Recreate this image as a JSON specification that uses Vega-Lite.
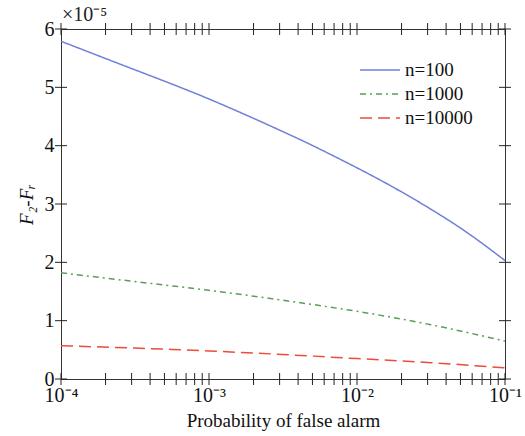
{
  "$schema": "https://vega.github.io/schema/vega-lite/v6.json",
  "width": 444,
  "height": 350,
  "autosize": {"type": "none"},
  "padding": {"left": 61, "top": 29, "right": 20, "bottom": 57},
  "background": "white",
  "config": {
    "view": {"stroke": "#333", "strokeWidth": 1},
    "axis": {
      "grid": false,
      "domainColor": "#333",
      "labelFont": "Liberation Serif",
      "titleFont": "Liberation Serif",
      "labelColor": "#111",
      "titleColor": "#111",
      "labelFontSize": 20,
      "titleFontSize": 19,
      "titleFontWeight": "normal"
    },
    "legend": {"labelFont": "Liberation Serif"}
  },
  "datasets": {
    "curves": [
      {"p": 0.0001, "v": 5.79, "n": "n=100"},
      {"p": 0.000316, "v": 5.30, "n": "n=100"},
      {"p": 0.001, "v": 4.80, "n": "n=100"},
      {"p": 0.00316, "v": 4.24, "n": "n=100"},
      {"p": 0.00562, "v": 3.94, "n": "n=100"},
      {"p": 0.01, "v": 3.62, "n": "n=100"},
      {"p": 0.0178, "v": 3.28, "n": "n=100"},
      {"p": 0.0316, "v": 2.91, "n": "n=100"},
      {"p": 0.0562, "v": 2.50, "n": "n=100"},
      {"p": 0.1, "v": 2.03, "n": "n=100"},
      {"p": 0.0001, "v": 1.82, "n": "n=1000"},
      {"p": 0.000316, "v": 1.67, "n": "n=1000"},
      {"p": 0.001, "v": 1.52, "n": "n=1000"},
      {"p": 0.00316, "v": 1.35, "n": "n=1000"},
      {"p": 0.01, "v": 1.16, "n": "n=1000"},
      {"p": 0.0316, "v": 0.93, "n": "n=1000"},
      {"p": 0.1, "v": 0.65, "n": "n=1000"},
      {"p": 0.0001, "v": 0.57, "n": "n=10000"},
      {"p": 0.000316, "v": 0.53, "n": "n=10000"},
      {"p": 0.001, "v": 0.48, "n": "n=10000"},
      {"p": 0.00316, "v": 0.42, "n": "n=10000"},
      {"p": 0.01, "v": 0.35, "n": "n=10000"},
      {"p": 0.0316, "v": 0.28, "n": "n=10000"},
      {"p": 0.1, "v": 0.19, "n": "n=10000"}
    ],
    "xticks": [
      {"t": 0.0001}, {"t": 0.0002}, {"t": 0.0003}, {"t": 0.0004}, {"t": 0.0005}, {"t": 0.0006}, {"t": 0.0007}, {"t": 0.0008}, {"t": 0.0009},
      {"t": 0.001}, {"t": 0.002}, {"t": 0.003}, {"t": 0.004}, {"t": 0.005}, {"t": 0.006}, {"t": 0.007}, {"t": 0.008}, {"t": 0.009},
      {"t": 0.01}, {"t": 0.02}, {"t": 0.03}, {"t": 0.04}, {"t": 0.05}, {"t": 0.06}, {"t": 0.07}, {"t": 0.08}, {"t": 0.09}, {"t": 0.1}
    ],
    "yticks": [
      {"t": 0}, {"t": 1}, {"t": 2}, {"t": 3}, {"t": 4}, {"t": 5}, {"t": 6}
    ]
  },
  "layer": [
    {
      "data": {"name": "curves"},
      "mark": {"type": "line", "strokeWidth": 1.5, "interpolate": "natural"},
      "encoding": {
        "x": {
          "field": "p",
          "type": "quantitative",
          "scale": {"type": "log", "domain": [0.0001, 0.1], "nice": false},
          "axis": {
            "title": "Probability of false alarm",
            "titlePadding": 6,
            "values": [0.0001, 0.001, 0.01, 0.1],
            "labelExpr": "datum.value == 0.0001 ? '10⁻⁴' : datum.value == 0.001 ? '10⁻³' : datum.value == 0.01 ? '10⁻²' : '10⁻¹'",
            "labelOverlap": false,
            "labelFlush": false,
            "ticks": false,
            "labelPadding": 6
          }
        },
        "y": {
          "field": "v",
          "type": "quantitative",
          "scale": {"domain": [0, 6], "nice": false},
          "axis": {
            "title": "F₂-Fᵣ",
            "titleFontStyle": "italic",
            "titlePadding": 8,
            "values": [0, 1, 2, 3, 4, 5, 6],
            "format": "d",
            "ticks": false,
            "labelPadding": 7
          }
        },
        "color": {
          "field": "n",
          "type": "nominal",
          "scale": {"domain": ["n=100", "n=1000", "n=10000"], "range": ["#6f80d8", "#5a9e5a", "#f04a3a"]},
          "legend": {
            "title": null,
            "orient": "none",
            "legendX": 308,
            "legendY": 30,
            "symbolType": "M-2,0H2",
            "symbolSize": 400,
            "symbolStrokeWidth": 1.5,
            "labelFont": "Liberation Serif",
            "labelFontSize": 19,
            "labelColor": "#111",
            "labelOffset": 14,
            "rowPadding": 3
          }
        },
        "strokeDash": {
          "field": "n",
          "type": "nominal",
          "scale": {"domain": ["n=100", "n=1000", "n=10000"], "range": [[1, 0], [6, 4, 2, 4], [12, 6]]},
          "legend": null
        }
      }
    },
    {
      "data": {"name": "xticks"},
      "mark": {"type": "tick", "orient": "vertical", "color": "#222", "size": 12, "thickness": 1, "opacity": 1},
      "encoding": {
        "x": {"field": "t", "type": "quantitative"},
        "y": {"datum": 0, "type": "quantitative"}
      }
    },
    {
      "data": {"name": "xticks"},
      "mark": {"type": "tick", "orient": "vertical", "color": "#222", "size": 12, "thickness": 1, "opacity": 1},
      "encoding": {
        "x": {"field": "t", "type": "quantitative"},
        "y": {"datum": 6, "type": "quantitative"}
      }
    },
    {
      "data": {"name": "yticks"},
      "mark": {"type": "tick", "orient": "horizontal", "color": "#222", "size": 12, "thickness": 1, "opacity": 1},
      "encoding": {
        "y": {"field": "t", "type": "quantitative"},
        "x": {"datum": 0.1, "type": "quantitative"}
      }
    },
    {
      "data": {"name": "yticks"},
      "mark": {"type": "tick", "orient": "horizontal", "color": "#222", "size": 12, "thickness": 1, "opacity": 1},
      "encoding": {
        "y": {"field": "t", "type": "quantitative"},
        "x": {"datum": 0.0001, "type": "quantitative"}
      }
    },
    {
      "data": {"values": [{}]},
      "mark": {
        "type": "text",
        "text": "×10⁻⁵",
        "align": "left",
        "baseline": "alphabetic",
        "dx": 1,
        "dy": -8,
        "font": "Liberation Serif",
        "fontSize": 20,
        "color": "#222"
      },
      "encoding": {
        "x": {"datum": 0.0001, "type": "quantitative"},
        "y": {"datum": 6, "type": "quantitative"}
      }
    }
  ]
}
